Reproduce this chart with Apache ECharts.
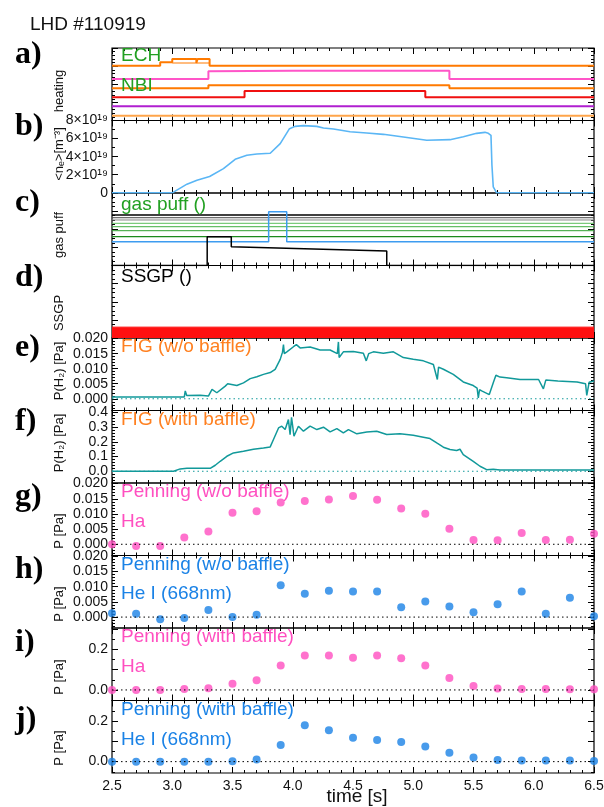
<!DOCTYPE html>
<html><head><meta charset="utf-8">
<script src="https://cdn.jsdelivr.net/npm/echarts@6/dist/echarts.min.js"></script>
<style>html,body{margin:0;padding:0;background:#fff}#c{width:604px;height:807px}</style>
</head><body><div id="c"></div><script>
// ---------------- data ----------------
const timeTicks = [2.5, 3.0, 3.5, 4.0, 4.5, 5.0, 5.5, 6.0, 6.5];
const dotTimes = [2.5, 2.7, 2.9, 3.1, 3.3, 3.5, 3.7, 3.9, 4.1, 4.3, 4.5, 4.7, 4.9, 5.1, 5.3, 5.5, 5.7, 5.9, 6.1, 6.3, 6.5];

// a) heating traces (arbitrary units)
const echMain = [[2.5,7.56],[2.9,7.56],[2.9,8.03],[3.0,8.03],[3.0,8.48],[3.2,8.48],[3.2,7.93],[3.21,8.48],[3.31,8.48],[3.31,7.56],[6.5,7.56]];
const echSub = [[3.0,7.93],[3.31,7.93]];
const nbiPink = [[2.5,5.72],[3.3,5.72],[3.3,6.79],[4.0,6.85],[5.3,6.85],[5.3,5.72],[6.5,5.72]];
const nbiOrange = [[2.5,4.44],[3.3,4.44],[3.3,4.86],[5.3,4.86],[5.3,4.44],[6.5,4.44]];
const nbiRed = [[2.5,3.2],[3.6,3.2],[3.6,4.07],[5.1,4.07],[5.1,3.2],[6.5,3.2]];
const nbiPurple = [[2.5,1.96],[6.5,1.96]];
const nbiLightOrange = [[2.5,0.66],[6.5,0.66]];

// b) line-averaged density (x1e19 m^-3)
const density = [[2.5,0],[3.0,0],[3.122,0.96],[3.205,1.40],[3.31,1.80],[3.425,2.68],[3.522,3.71],[3.619,4.15],[3.702,4.30],[3.813,4.38],[3.896,5.44],[3.973,7.10],[4.02,7.35],[4.089,7.43],[4.2,7.35],[4.255,7.17],[4.338,7.06],[4.476,6.76],[4.614,6.62],[4.752,6.47],[4.918,6.18],[5.112,5.81],[5.305,5.88],[5.416,6.21],[5.526,6.58],[5.595,6.69],[5.623,6.58],[5.637,6.65],[5.645,6.36],[5.653,3.05],[5.664,0.66],[5.692,0],[6.5,0]];

// c) gas puff traces (arbitrary units)
const gasBlack1 = [[2.5,6.97],[6.5,6.97]];
const gasGray1 = [[2.5,6.59],[6.5,6.59]];
const gasGray2 = [[2.5,6.28],[6.5,6.28]];
const gasGreen1 = [[2.5,5.82],[6.5,5.82]];
const gasGreen2 = [[2.5,5.35],[6.5,5.35]];
const gasGreen3 = [[2.5,4.8],[6.5,4.8]];
const gasGreen4 = [[2.5,3.97],[6.5,3.97]];
const gasBlue = [[2.5,3.28],[3.8,3.28],[3.8,7.42],[3.95,7.42],[3.95,3.28],[6.5,3.28]];
const gasBlackPulse = [[2.5,0],[3.29,0],[3.29,3.97],[3.49,3.97],[3.49,2.59],[4.78,2.0],[4.78,0],[6.5,0]];

// d) SSGP signal band (arbitrary units)
const ssgp = [[2.5,1.5],[6.5,1.5]];

// e) FIG w/o baffle [Pa]
const figNoBaffle = [[2.5,0.0006],[3.1,0.0006],[3.108,0.0026],[3.12,0.0011],[3.232,0.0012],[3.3,0.0009],[3.33,0.0031],[3.37,0.002],[3.44,0.0042],[3.46,0.005],[3.536,0.0044],[3.591,0.0053],[3.647,0.0067],[3.702,0.0073],[3.757,0.0081],[3.813,0.0087],[3.854,0.0098],[3.896,0.0131],[3.915,0.0155],[3.923,0.0180],[3.93,0.0150],[3.951,0.0156],[4.006,0.0173],[4.03,0.0180],[4.061,0.0169],[4.144,0.0172],[4.227,0.0162],[4.31,0.0162],[4.37,0.0150],[4.379,0.0189],[4.385,0.0137],[4.42,0.0156],[4.503,0.0157],[4.586,0.0151],[4.61,0.0126],[4.63,0.0150],[4.669,0.0156],[4.752,0.0151],[4.835,0.0156],[4.918,0.0137],[5.0,0.0131],[5.084,0.0126],[5.167,0.0114],[5.2,0.0064],[5.21,0.0105],[5.25,0.0098],[5.332,0.0081],[5.415,0.0056],[5.498,0.0044],[5.53,0.0035],[5.54,0.0003],[5.55,0.0030],[5.568,0.0026],[5.631,0.0014],[5.664,0.0053],[5.686,0.0078],[5.72,0.0072],[5.775,0.0070],[5.886,0.0064],[6.04,0.0064],[6.08,0.0033],[6.1,0.0062],[6.2,0.0059],[6.36,0.0056],[6.43,0.0050],[6.44,0.0011],[6.46,0.0055],[6.5,0.0059]];

// f) FIG with baffle [Pa]
const figBaffle = [[2.5,0],[3.011,0],[3.066,0.016],[3.122,0.02],[3.315,0.02],[3.357,0.041],[3.398,0.068],[3.453,0.102],[3.508,0.125],[3.591,0.136],[3.674,0.15],[3.757,0.159],[3.813,0.166],[3.84,0.216],[3.882,0.295],[3.909,0.307],[3.937,0.284],[3.964,0.352],[3.978,0.25],[3.99,0.368],[4.01,0.239],[4.047,0.307],[4.089,0.273],[4.144,0.307],[4.2,0.284],[4.255,0.3],[4.31,0.268],[4.366,0.291],[4.42,0.261],[4.462,0.284],[4.532,0.255],[4.614,0.268],[4.697,0.273],[4.78,0.25],[4.89,0.255],[5.0,0.245],[5.084,0.232],[5.139,0.223],[5.195,0.193],[5.25,0.164],[5.305,0.148],[5.36,0.141],[5.388,0.15],[5.415,0.114],[5.498,0.068],[5.554,0.034],[5.609,0.011],[5.664,0.014],[5.72,0.009],[6.5,0.009]];

// g-j) Penning gauge estimates [Pa]
const penHaNoBaffle = [0, -0.00055, -0.00055, 0.0022, 0.0042, 0.0104, 0.0109, 0.0138, 0.0143, 0.0148, 0.0159, 0.0147, 0.0118, 0.0101, 0.0051, 0.0014, 0.0013, 0.0037, 0.0014, 0.0015, 0.0035];
const penHeNoBaffle = [0.0013, 0.0011, -0.0007, -0.0003, 0.0023, 0.0, 0.0008, 0.0105, 0.0077, 0.0087, 0.0084, 0.0084, 0.0032, 0.0051, 0.0035, 0.0016, 0.0042, 0.0084, 0.0011, 0.0064, 0.0003];
const penHaBaffle = [0, 0, 0, 0.005, 0.008, 0.031, 0.048, 0.12, 0.169, 0.17, 0.159, 0.17, 0.156, 0.12, 0.059, 0.02, 0.007, 0.005, 0.005, 0.003, 0.003];
const penHeBaffle = [0, 0, 0, 0, 0, 0.002, 0.01, 0.082, 0.179, 0.154, 0.118, 0.107, 0.097, 0.074, 0.044, 0.02, 0.008, 0.005, 0.005, 0.005, 0.003];

// tick label values
const densTicks = [0, 2, 4, 6, 8];
const smallPTicks = [0, 0.005, 0.01, 0.015, 0.02];
const figBTicks = [0, 0.1, 0.2, 0.3, 0.4];
const bigPTicks = [0, 0.2];

// ---------------- layout ----------------
const GL = 112, GR = 10, TOP0 = 48, PH = 72.5;
const FONT = '"Liberation Sans", Arial, sans-serif';
function range(a, b, s) { const r = []; for (let v = a; v <= b + s * 1e-6; v += s) r.push(+v.toFixed(6)); return r; }

const panels = [
  {min: 0, max: 10, majors: [0, 2.5, 5, 7.5, 10], minors: range(0, 10, 0.5)},
  {min: -0.02, max: 8.0, majors: densTicks, minors: range(0, 8, 1), labels: densTicks,
    fmt: v => v === 0 ? '0' : v + '×10¹⁹'},
  {min: 0, max: 10, majors: [0, 2.5, 5, 7.5, 10], minors: range(0, 10, 0.625)},
  {min: 0, max: 10, majors: [0, 2.5, 5, 7.5, 10], minors: range(0, 10, 0.625)},
  {min: -0.0039, max: 0.0202, majors: smallPTicks, minors: range(-0.003, 0.02, 0.001), labels: smallPTicks, fmt: v => v.toFixed(3)},
  {min: -0.08, max: 0.414, majors: figBTicks, minors: range(-0.06, 0.4, 0.02), labels: figBTicks, fmt: v => v.toFixed(1)},
  {min: -0.0037, max: 0.0202, majors: smallPTicks, minors: range(-0.003, 0.02, 0.001), labels: smallPTicks, fmt: v => v.toFixed(3)},
  {min: -0.0036, max: 0.0203, majors: smallPTicks, minors: range(-0.003, 0.02, 0.001), labels: smallPTicks, fmt: v => v.toFixed(3)},
  {min: -0.052, max: 0.305, majors: [0, 0.1, 0.2, 0.3], minors: range(-0.05, 0.3, 0.05), labels: bigPTicks, fmt: v => v.toFixed(1)},
  {min: -0.056, max: 0.301, majors: [0, 0.1, 0.2, 0.3], minors: range(-0.05, 0.3, 0.05), labels: bigPTicks, fmt: v => v.toFixed(1)}
];

const grid = [], xAxis = [], yAxis = [], series = [];
panels.forEach((p, i) => {
  grid.push({left: GL, right: GR, top: TOP0 + PH * i, height: PH, show: true, borderColor: '#000', borderWidth: 1.2, backgroundColor: 'transparent', outerBoundsMode: 'none'});
  ['bottom', 'top'].forEach((pos, k) => {
    xAxis.push({type: 'value', gridIndex: i, position: pos, min: 2.5, max: 6.5, interval: 0.5,
      axisLine: {show: false, onZero: false}, splitLine: {show: false},
      axisTick: {show: true, inside: true, length: 6, lineStyle: {color: '#000', width: 1}},
      minorTick: {show: true, splitNumber: 5, length: 3, lineStyle: {color: '#000', width: 1}},
      axisLabel: {show: i === 9 && k === 0, margin: 6, fontSize: 14, color: '#111', fontFamily: FONT,
        customValues: timeTicks, formatter: v => v.toFixed(1)}});
  });
  [['left', true], ['right', true], ['left', false], ['right', false]].forEach(([pos, major]) => {
    const showLab = major && pos === 'left' && !!p.labels;
    yAxis.push({type: 'value', gridIndex: i, position: pos, min: p.min, max: p.max,
      axisLine: {show: false, onZero: false}, splitLine: {show: false},
      axisTick: {show: true, inside: true, length: major ? 6 : 3, customValues: major ? p.majors : p.minors, lineStyle: {color: '#000', width: 1}},
      axisLabel: {show: showLab, margin: 4, fontSize: 14, color: '#111', fontFamily: FONT,
        showMaxLabel: true, showMinLabel: true, hideOverlap: false,
        customValues: p.labels || [], formatter: p.fmt}});
  });
});

function line(i, data, color, width, extra) {
  series.push(Object.assign({type: 'line', xAxisIndex: 2 * i, yAxisIndex: 4 * i, data: data, showSymbol: false, symbol: 'none',
    animation: false, lineStyle: {color: color, width: width}, itemStyle: {color: color}}, extra || {}));
}
function dots(i, vals, color) {
  series.push({type: 'scatter', xAxisIndex: 2 * i, yAxisIndex: 4 * i, animation: false, symbolSize: 8,
    data: dotTimes.map((t, k) => [t, vals[k]]), itemStyle: {color: color}});
}
function zero(i, color) { line(i, [[2.5, 0], [6.5, 0]], color, 1, {lineStyle: {color: color, width: 1, type: [1.5, 3]}}); }

const ORANGE = '#ff7a00', PINK = '#ff4fc0', BLUE = '#1a82e6', TEAL = '#11999a', GREEN = '#22a022';
// a
line(0, nbiLightOrange, '#ffa54a', 2);
line(0, nbiPurple, '#b01fd0', 2);
line(0, nbiRed, '#f01010', 2);
line(0, nbiOrange, ORANGE, 2);
line(0, nbiPink, '#ff55c8', 2);
line(0, echSub, ORANGE, 1.2);
line(0, echMain, ORANGE, 2);
// b
line(1, density, '#5ab6f5', 1.6);
// c
line(2, gasBlack1, '#000', 1.5);
line(2, gasGray1, '#444', 1);
line(2, gasGray2, '#888', 1);
line(2, gasGreen1, '#5cbf5c', 1);
line(2, gasGreen2, '#3fae3f', 1);
line(2, gasGreen3, '#2f9f2f', 1);
line(2, gasGreen4, '#1c8a1c', 1.2);
line(2, gasBlue, '#3d9cf0', 1.5);
line(2, gasBlackPulse, '#000', 1.5);
// d
line(3, ssgp, '#ff1010', 1, {areaStyle: {color: '#ff1010', opacity: 1, origin: 'start'}});
// e, f
zero(4, TEAL);
line(4, figNoBaffle, TEAL, 1.5);
zero(5, TEAL);
line(5, figBaffle, TEAL, 1.5);
// g-j
zero(6, '#000'); dots(6, penHaNoBaffle, PINK);
zero(7, '#000'); dots(7, penHeNoBaffle, BLUE);
zero(8, '#000'); dots(8, penHaBaffle, PINK);
zero(9, '#000'); dots(9, penHeBaffle, BLUE);

// ---------------- texts ----------------
const graphic = [];
function txt(x, y, s, font, color, align, rot) {
  graphic.push({type: 'text', x: x, y: y, rotation: rot || 0, z: 100,
    style: {text: s, font: font, fill: color, align: align || 'left', verticalAlign: 'middle'}});
}
txt(30, 25, 'LHD #110919', '19px ' + FONT, '#111');
const letters = ['a)', 'b)', 'c)', 'd)', 'e)', 'f)', 'g)', 'h)', 'i)', 'j)'];
const letterY = [55, 127, 203, 278, 348, 422, 497, 570, 643, 720];
letters.forEach((l, k) => txt(15, letterY[k], l, 'bold 32px "Liberation Serif", serif', '#000'));
const yNames = ['heating', '<nₑ>[m⁻³]', 'gas puff', 'SSGP', 'P(H₂) [Pa]', 'P(H₂) [Pa]', 'P [Pa]', 'P [Pa]', 'P [Pa]', 'P [Pa]'];
const yNameY = [91, 154, 235, 313, 371, 443, 531, 604, 677, 748];
yNames.forEach((n, k) => txt(59, yNameY[k], n, '13px ' + FONT, '#111', 'center', Math.PI / 2));
const LF = '19px ' + FONT;
const tops = panels.map((p, i) => TOP0 + PH * i);
txt(121, tops[0] + 8, 'ECH', LF, GREEN);
txt(121, tops[0] + 38, 'NBI', LF, GREEN);
txt(121, tops[2] + 12, 'gas puff ()', LF, GREEN);
txt(121, tops[3] + 11.5, 'SSGP ()', LF, '#000');
txt(121, tops[4] + 9, 'FIG (w/o baffle)', LF, '#ff8020');
txt(121, tops[5] + 9.5, 'FIG (with baffle)', LF, '#ff8020');
txt(121, tops[6] + 9, 'Penning (w/o baffle)', LF, PINK);
txt(121, tops[6] + 38.5, 'Ha', LF, PINK);
txt(121, tops[7] + 9.5, 'Penning (w/o baffle)', LF, BLUE);
txt(121, tops[7] + 38, 'He I (668nm)', LF, BLUE);
txt(121, tops[8] + 9, 'Penning (with baffle)', LF, PINK);
txt(121, tops[8] + 38.5, 'Ha', LF, PINK);
txt(121, tops[9] + 9.5, 'Penning (with baffle)', LF, BLUE);
txt(121, tops[9] + 39.5, 'He I (668nm)', LF, BLUE);
txt(357, 797, 'time [s]', '19px ' + FONT, '#111', 'center');

const chart = echarts.init(document.getElementById('c'), null, {renderer: 'canvas'});
chart.setOption({animation: false, backgroundColor: '#fff', grid, xAxis, yAxis, series, graphic});
</script></body></html>
